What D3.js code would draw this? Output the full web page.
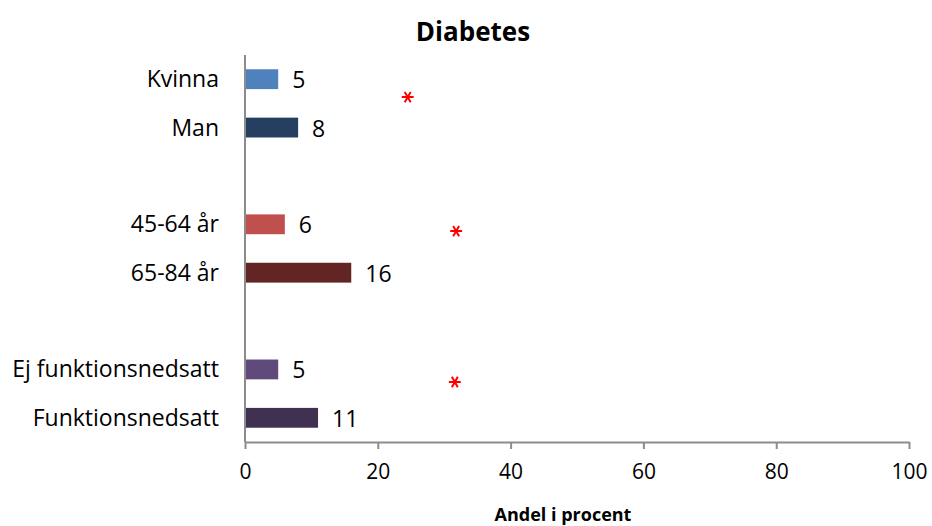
<!DOCTYPE html>
<html>
<head>
<meta charset="utf-8">
<script src="https://cdn.jsdelivr.net/npm/d3@7"></script>
<style>
  body { margin: 0; background: #fff; }
  text { font-family: "Open Sans", sans-serif; fill: #000; }
</style>
</head>
<body>
<svg id="chart"></svg>
<script>
// slots on the category axis, gap entries are spacer rows
const slots = ["Kvinna", "Man", "gap1", "45-64 år", "65-84 år", "gap2", "Ej funktionsnedsatt", "Funktionsnedsatt"];
const categories = ["Kvinna", "Man", "45-64 år", "65-84 år", "Ej funktionsnedsatt", "Funktionsnedsatt"];
const values = [5, 8, 6, 16, 5, 11];
const barColors = ["#4f81bd", "#243f60", "#c0504d", "#632523", "#604a7b", "#403152"];
// significance markers: x value and row position (slot index, fractional)
const starX = [24.5, 31.8, 31.6];
const starRow = [0.87, 3.64, 6.76];
const xTicks = [0, 20, 40, 60, 80, 100];

const w = 932, h = 526;
const margin = { top: 55, right: 23, bottom: 84, left: 245 };
const width = w - margin.left - margin.right;
const height = h - margin.top - margin.bottom;

const svg = d3.select("#chart").attr("width", w).attr("height", h);
const g = svg.append("g").attr("transform", `translate(${margin.left},${margin.top})`);

const x = d3.scaleLinear().domain([0, 100]).range([0, width]);
const y = d3.scaleBand().domain(slots).range([0, height]).paddingInner(0.59).paddingOuter(0.295);
const rowPos = d3.scaleLinear().domain([0, slots.length]).range([0, height]);

// bars
g.selectAll("rect.bar")
  .data(categories)
  .enter()
  .append("rect")
  .attr("class", "bar")
  .attr("x", x(0))
  .attr("y", (d) => y(d))
  .attr("width", (d, i) => x(values[i]) - x(0))
  .attr("height", y.bandwidth())
  .attr("fill", (d, i) => barColors[i]);

// value labels
g.selectAll("text.val")
  .data(categories)
  .enter()
  .append("text")
  .attr("class", "val")
  .attr("x", (d, i) => x(values[i]) + 14)
  .attr("y", (d) => y(d) + y.bandwidth() / 2 + 9)
  .style("font-size", "23px")
  .text((d, i) => values[i]);

// category labels
g.selectAll("text.cat")
  .data(categories)
  .enter()
  .append("text")
  .attr("class", "cat")
  .attr("x", -26)
  .attr("y", (d) => y(d) + y.bandwidth() / 2 + 8)
  .attr("text-anchor", "end")
  .style("font-size", "23px")
  .text((d) => d);

// y axis line
g.append("line")
  .attr("x1", 0).attr("x2", 0)
  .attr("y1", 0).attr("y2", height)
  .attr("stroke", "#8c8c8c").attr("stroke-width", 2);

// x axis
const xAxis = g.append("g")
  .attr("transform", `translate(0,${height})`)
  .call(d3.axisBottom(x).tickValues(xTicks).tickSize(7).tickPadding(15).tickSizeOuter(0));
xAxis.select(".domain").attr("stroke", "#8c8c8c").attr("stroke-width", 2);
xAxis.selectAll(".tick line").attr("stroke", "#8c8c8c").attr("stroke-width", 2);
xAxis.selectAll(".tick text")
  .style("font-family", "'Open Sans', sans-serif")
  .style("font-size", "21px")
  .attr("fill", "#000");

// significance asterisks
const star = d3.symbol().type(d3.symbolAsterisk).size(100);
g.selectAll("path.star")
  .data(starX)
  .enter()
  .append("path")
  .attr("class", "star")
  .attr("transform", (d, i) => `translate(${x(d)},${rowPos(starRow[i])}) rotate(90)`)
  .attr("d", star)
  .attr("fill", "none")
  .attr("stroke", "#ff0000")
  .attr("stroke-width", 2);

// titles
svg.append("text")
  .attr("x", 473).attr("y", 41)
  .attr("text-anchor", "middle")
  .style("font-size", "26px").style("font-weight", "bold")
  .text("Diabetes");

svg.append("text")
  .attr("x", 563).attr("y", 521)
  .attr("text-anchor", "middle")
  .style("font-size", "18px").style("font-weight", "bold")
  .text("Andel i procent");
</script>
</body>
</html>
